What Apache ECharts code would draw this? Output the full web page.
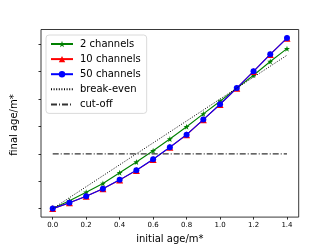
<!DOCTYPE html>
<html>
<head>
<meta charset="utf-8">
<script src="https://cdn.jsdelivr.net/npm/echarts@6/dist/echarts.min.js"></script>
<style>
html,body{margin:0;padding:0;background:#fff;}
#c{width:332px;height:249px;}
</style>
</head>
<body>
<div id="c"></div>
<script>
var initialAge = [0.0, 0.1, 0.2, 0.3, 0.4, 0.5, 0.6, 0.7, 0.8, 0.9, 1.0, 1.1, 1.2, 1.3, 1.4];
var ch2 = [0, 0.143, 0.30, 0.46, 0.655, 0.85, 1.055, 1.27, 1.495, 1.73, 1.96, 2.2, 2.435, 2.685, 2.92];
var ch10 = [0, 0.105, 0.225, 0.362, 0.523, 0.698, 0.898, 1.118, 1.348, 1.623, 1.903, 2.198, 2.505, 2.814, 3.112];
var ch50 = [0, 0.107, 0.227, 0.364, 0.525, 0.70, 0.90, 1.12, 1.35, 1.625, 1.905, 2.2, 2.507, 2.816, 3.114];
var breakEvenX = [0.0, 1.4];
var breakEvenY = [0.0, 2.8];
var cutOffX = [0.0, 1.4];
var cutOffY = [1.0, 1.0];
var xTicks = [0.0, 0.2, 0.4, 0.6, 0.8, 1.0, 1.2, 1.4];
var yTicks = [0.0, 0.5, 1.0, 1.5, 2.0, 2.5, 3.0];

var X_MIN = -0.07, X_MAX = 1.47, Y_MIN = -0.155, Y_MAX = 3.27;

function pairs(xs, ys){ return xs.map(function(x,i){ return [x, ys[i]]; }); }

var chart = echarts.init(document.getElementById('c'), null, {renderer:'canvas'});
var font = 'DejaVu Sans';
chart.setOption({
  animation: false,
  backgroundColor: '#fff',
  textStyle: {fontFamily: font},
  grid: {left: 41, right: 33.3, top: 29.5, bottom: 28, show: true, borderColor: '#222', borderWidth: 0.9, backgroundColor: 'transparent'},
  graphic: [{
    type: 'text', x: 14, y: 125, rotation: Math.PI / 2,
    style: {text: 'final age/m*', fontFamily: font, fontSize: 10, fill: '#000', align: 'center', verticalAlign: 'middle'}
  }],
  legend: {
    orient: 'vertical', left: 46, top: 35,
    data: [
      {name: '2 channels'},
      {name: '10 channels'},
      {name: '50 channels'},
      {name: 'break-even', itemStyle: {opacity: 0}},
      {name: 'cut-off', itemStyle: {opacity: 0}}
    ],
    itemWidth: 22, itemHeight: 8, itemGap: 5.1,
    padding: [4, 6, 4, 4],
    borderColor: '#d0d0d0', borderWidth: 0.8, borderRadius: 3,
    backgroundColor: 'rgba(255,255,255,0.8)',
    textStyle: {fontFamily: font, fontSize: 10, color: '#000', padding: [0, 0, 0, 2], lineHeight: 10}
  },
  xAxis: {
    type: 'value', min: X_MIN, max: X_MAX,
    name: 'initial age/m*', nameLocation: 'middle', nameGap: 16,
    nameTextStyle: {fontFamily: font, fontSize: 10, color: '#000'},
    axisLine: {show: false, onZero: false},
    splitLine: {show: false},
    axisTick: {show: true, customValues: xTicks, length: 2.5, lineStyle: {color: '#000', width: 0.8}},
    axisLabel: {customValues: xTicks, fontFamily: font, fontSize: 7, color: '#000', margin: 5,
      formatter: function(v){ return v.toFixed(1); }}
  },
  yAxis: {
    type: 'value', min: Y_MIN, max: Y_MAX,
    axisLine: {show: false, onZero: false},
    splitLine: {show: false},
    axisTick: {show: true, customValues: yTicks, length: 2.5, lineStyle: {color: '#000', width: 0.8}},
    axisLabel: {show: false}
  },
  series: [
    {name: '2 channels', type: 'line', data: pairs(initialAge, ch2), symbol: 'path://M0,-1 L0.2245,-0.309 L0.951,-0.309 L0.363,0.118 L0.588,0.809 L0,0.382 L-0.588,0.809 L-0.363,0.118 L-0.951,-0.309 L-0.2245,-0.309 Z',
      symbolSize: 6, color: '#008000', lineStyle: {width: 1.1, color: '#008000'}, itemStyle: {color: '#008000'}, z: 2},
    {name: '10 channels', type: 'line', data: pairs(initialAge, ch10), symbol: 'triangle', symbolSize: 7,
      color: '#ff0000', lineStyle: {width: 1.1, color: '#ff0000'}, itemStyle: {color: '#ff0000'}, z: 3},
    {name: '50 channels', type: 'line', data: pairs(initialAge, ch50), symbol: 'circle', symbolSize: 6,
      color: '#0000ff', lineStyle: {width: 1.1, color: '#0000ff'}, itemStyle: {color: '#0000ff'}, z: 4},
    {name: 'break-even', type: 'line', data: pairs(breakEvenX, breakEvenY), symbol: 'none', showSymbol: false,
      color: '#000', lineStyle: {width: 1, color: '#000', type: [1, 1.6]}, z: 5},
    {name: 'cut-off', type: 'line', data: pairs(cutOffX, cutOffY), symbol: 'none', showSymbol: false,
      color: '#333', lineStyle: {width: 1.1, color: '#333', type: [6, 2, 1, 2]}, z: 5},
    {name: 'y tick labels', type: 'scatter', silent: true, clip: false, symbol: 'circle', symbolSize: 0,
      data: yTicks.map(function(v){ return [X_MIN, v]; }),
      itemStyle: {opacity: 0},
      label: {show: true, position: 'left', distance: 7, fontFamily: font, fontSize: 7, color: '#000',
        formatter: function(p){ return p.value[1].toFixed(1); }},
      labelLayout: {hideOverlap: false}, z: 6}
  ]
});
</script>
</body>
</html>
